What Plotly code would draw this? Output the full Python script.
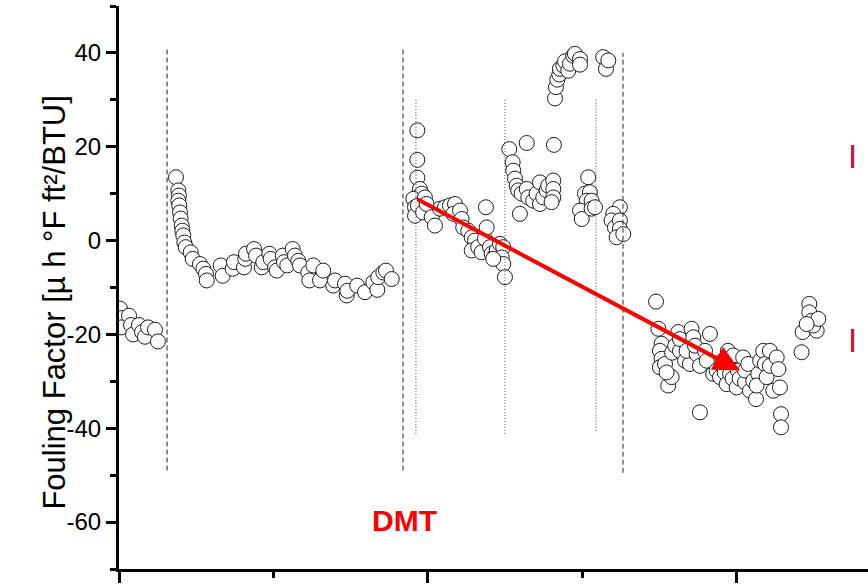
import plotly.graph_objects as go

# Fouling factor record, one list per operating period
x_p1 = [0.6, 1.9, 1.3, 6.5, 7.8, 9.1, 12.9, 14.9, 16.8, 18.8, 23.3, 25.2]
y_p1 = [-14.5, -16.5, -18.5, -16.0, -18.0, -20.0, -18.0, -19.5, -20.5, -18.5, -19.0, -21.5]

x_p2 = [36.9, 38.4, 38.8, 38.4, 39.0, 39.5, 39.9, 40.6, 41.0, 41.6, 42.3, 43.2, 46.4, 47.7,
        52.4, 54.6, 56.3, 56.8, 65.8, 67.1, 73.6, 74.4, 80.9, 81.7, 82.2, 87.4, 88.7, 92.4,
        93.4, 97.3, 98.2, 101.0, 102.1, 106.0, 106.8, 108.9, 112.4, 113.9, 116.0, 117.1,
        122.5, 123.2, 125.8, 130.1, 132.2, 138.7, 139.8, 146.3, 147.4, 147.8, 154.2, 159.2,
        164.6, 167.2, 167.8, 171.1, 172.8, 176.5]
y_p2 = [13.5, 10.7, 9.6, 8.5, 7.5, 6.0, 4.7, 3.2, 2.1, 1.1, -0.4, -1.4, -2.5, -3.9,
        -5.0, -6.0, -7.1, -8.5, -5.3, -7.5, -6.0, -4.6, -5.7, -3.9, -2.8, -1.8, -3.2, -5.7,
        -4.6, -2.8, -3.9, -5.7, -6.4, -3.2, -4.6, -5.3, -1.8, -3.2, -4.3, -5.3,
        -6.8, -8.5, -5.3, -8.5, -6.4, -9.6, -8.5, -9.2, -11.7, -10.7, -9.6, -11.0,
        -8.9, -10.5, -7.8, -6.8, -6.4, -8.2]

x_p3 = [193.1, 193.1, 193.1, 194.8, 195.9, 190.5, 191.6, 191.6, 193.5, 196.8, 198.0, 199.1,
        202.4, 204.5, 207.7, 211.0, 214.2, 217.5, 216.4, 220.7, 221.8, 222.8, 226.1, 228.3,
        230.4, 228.3, 232.5, 234.7, 236.9, 238.0, 237.5, 240.1, 241.2, 243.4, 244.5, 246.6,
        248.7, 247.7, 248.7, 249.8, 242.2]
y_p3 = [23.5, 17.2, 13.4, 11.0, 10.0, 8.9, 7.1, 5.3, 7.5, 6.0, 9.2, 7.8,
        5.0, 3.2, 6.8, 7.1, 7.5, 7.8, 5.7, 6.4, 4.6, 2.8, 2.1, 0.7,
        0.0, -2.1, -1.4, -2.5, 0.4, 2.8, 7.1, -1.4, -2.8, -3.2, -2.1, -0.7,
        -1.4, -3.6, -5.0, -7.8, -3.9]

x_p4 = [252.6, 263.9, 281.5, 254.8, 255.2, 256.3, 257.4, 258.4, 260.6, 259.5, 263.9, 264.9,
        268.1, 270.3, 272.5, 272.5, 274.6, 276.8, 277.8, 281.1, 281.1, 281.1, 280.0,
        282.2, 282.8, 283.7, 285.0, 285.4, 287.6, 288.7, 290.8, 291.9, 294.0, 295.1, 298.4,
        298.4, 313.4, 315.2, 316.7,
        303.7, 301.6, 304.8, 302.7, 305.9, 298.4, 299.5, 305.9, 308.1]
y_p4 = [19.5, 20.8, 20.4, 16.7, 14.9, 13.2, 11.7, 10.7, 10.0, 5.7, 11.0, 9.2,
        8.5, 10.0, 12.4, 7.8, 9.2, 10.7, 11.7, 12.8, 11.0, 9.2, 8.2,
        30.3, 32.7, 34.3, 35.4, 36.6, 37.3, 38.2, 36.2, 37.7, 39.4, 39.8, 38.7,
        37.5, 39.1, 36.6, 38.4,
        13.5, 10.0, 10.3, 8.5, 8.5, 6.4, 4.6, 6.8, 7.1]

x_p5 = [324.2, 319.9, 318.8, 321.0, 324.2, 324.2, 322.1, 326.4]
y_p5 = [7.1, 5.7, 4.3, 2.8, 4.3, 2.5, 0.7, 1.4]

x_p6 = [347.6, 349.1, 351.2, 350.1, 351.2, 350.1, 353.4, 355.5, 357.7, 354.4, 358.0, 360.0,
        362.0, 363.1, 363.1, 366.4, 369.5, 370.6, 371.7, 367.4, 373.9, 372.8, 376.0, 382.5,
        376.0, 379.3, 380.4, 384.6, 386.8, 389.0, 390.9, 392.0, 393.3, 394.1, 395.5, 397.2,
        397.6, 399.8, 400.6, 401.7, 404.0, 405.2, 405.2, 407.3, 408.4, 410.5, 412.3, 413.8,
        412.7, 415.0, 417.0, 418.1, 419.2, 421.3, 421.3, 423.5, 425.7, 426.8, 427.8, 428.5,
        428.5, 441.8, 442.5, 446.8, 446.8, 448.3, 451.6, 449.4, 452.6, 445.1]
y_p6 = [-13.0, -18.8, -22.0, -23.5, -25.2, -27.0, -26.3, -30.9, -29.1, -28.1, -23.9, -22.4,
        -19.5, -23.5, -21.0, -25.6, -26.3, -18.8, -20.6, -23.5, -24.2, -22.4, -26.7, -19.9,
        -36.6, -23.5, -25.6, -28.4, -27.7, -29.1, -25.6, -28.1, -30.6, -23.5, -28.4, -29.4,
        -24.5, -31.3, -27.7, -29.4, -24.9, -30.2, -27.7, -26.3, -32.0, -29.9, -33.8, -28.4,
        -30.9, -25.6, -23.5, -26.3, -29.1, -23.5, -26.7, -32.0, -24.9, -27.4, -31.3, -37.0,
        -39.8, -23.8, -19.5, -13.5, -15.3, -17.1, -19.2, -18.1, -16.7, -17.8]

# Y tick values and their labels (plain hyphen for negatives)
y_tickvals = [-60, -40, -20, 0, 20, 40]
y_ticktext = ["-60", "-40", "-20", "0", "20", "40"]

# Period boundaries: (position, bottom, top)
dashed_bounds = [(31.1, -49.0, 41.0), (183.8, -49.0, 41.0), (326.2, -49.5, 40.0)]
dotted_bounds = [(192.2, -41.2, 30.0), (249.8, -41.2, 30.0), (308.7, -40.5, 30.4)]

# Trend arrow across the DMT period
trend_start = (192.2, 9.0)
trend_end = (401.9, -27.7)

xs = x_p1 + x_p2 + x_p3 + x_p4 + x_p5 + x_p6
ys = y_p1 + y_p2 + y_p3 + y_p4 + y_p5 + y_p6

FONT = "Liberation Sans, Arial, sans-serif"

fig = go.Figure()
fig.add_trace(go.Scatter(
    x=xs, y=ys, mode="markers",
    marker=dict(symbol="circle", size=15, color="white",
                line=dict(color="#1a1a1a", width=1)),
    showlegend=False, hoverinfo="x+y",
))

shapes = []
for xb, y0, y1 in dashed_bounds:
    shapes.append(dict(type="line", xref="x", yref="y", x0=xb, x1=xb, y0=y0, y1=y1,
                       line=dict(color="#222222", width=1, dash="5px,3px")))
for xb, y0, y1 in dotted_bounds:
    shapes.append(dict(type="line", xref="x", yref="y", x0=xb, x1=xb, y0=y0, y1=y1,
                       line=dict(color="#444444", width=1, dash="1px,2px")))

annotations = [
    dict(x=trend_end[0], y=trend_end[1], ax=trend_start[0], ay=trend_start[1],
         xref="x", yref="y", axref="x", ayref="y", text="", showarrow=True,
         arrowhead=2, arrowsize=1.3, arrowwidth=4, arrowcolor="#ff0000",
         standoff=0, startstandoff=0),
    dict(x=185.1, y=-59.7, xref="x", yref="y", text="<b>DMT</b>", showarrow=False,
         font=dict(family=FONT, size=30, color="#ff0000")),
    dict(x=474.8, y=18.0, xref="x", yref="y", text="I", showarrow=False,
         font=dict(family=FONT, size=33, color="#c8103c")),
    dict(x=474.8, y=-21.2, xref="x", yref="y", text="I", showarrow=False,
         font=dict(family=FONT, size=33, color="#c8103c")),
    dict(x=-0.112, y=0.4725, xref="paper", yref="paper",
         text="Fouling Factor [µ h °F ft²/BTU]", textangle=-90, showarrow=False,
         font=dict(family=FONT, size=31, color="black")),
]

fig.update_layout(
    width=868, height=584,
    margin=dict(l=119, r=0, t=6, b=15),
    paper_bgcolor="white", plot_bgcolor="white",
    shapes=shapes, annotations=annotations,
    font=dict(family=FONT, color="black"),
    xaxis=dict(range=[0, 484.8], showgrid=False, zeroline=False,
               showline=True, linecolor="black", linewidth=3,
               ticks="outside", tickmode="linear", tick0=0, dtick=200,
               ticklen=11, tickwidth=2.5, tickcolor="black",
               showticklabels=False,
               minor=dict(ticks="outside", dtick=100, tick0=0, ticklen=6,
                          tickwidth=2.5, tickcolor="black")),
    yaxis=dict(range=[-70, 50], showgrid=False, zeroline=False,
               showline=True, linecolor="black", linewidth=3,
               ticks="outside", tickmode="array", tickvals=y_tickvals,
               ticktext=y_ticktext,
               ticklen=10, tickwidth=2.5, tickcolor="black",
               tickfont=dict(family=FONT, size=24, color="black"),
               minor=dict(ticks="outside", dtick=10, tick0=0, ticklen=6,
                          tickwidth=2.5, tickcolor="black")),
)

fig.write_html("out.html")
